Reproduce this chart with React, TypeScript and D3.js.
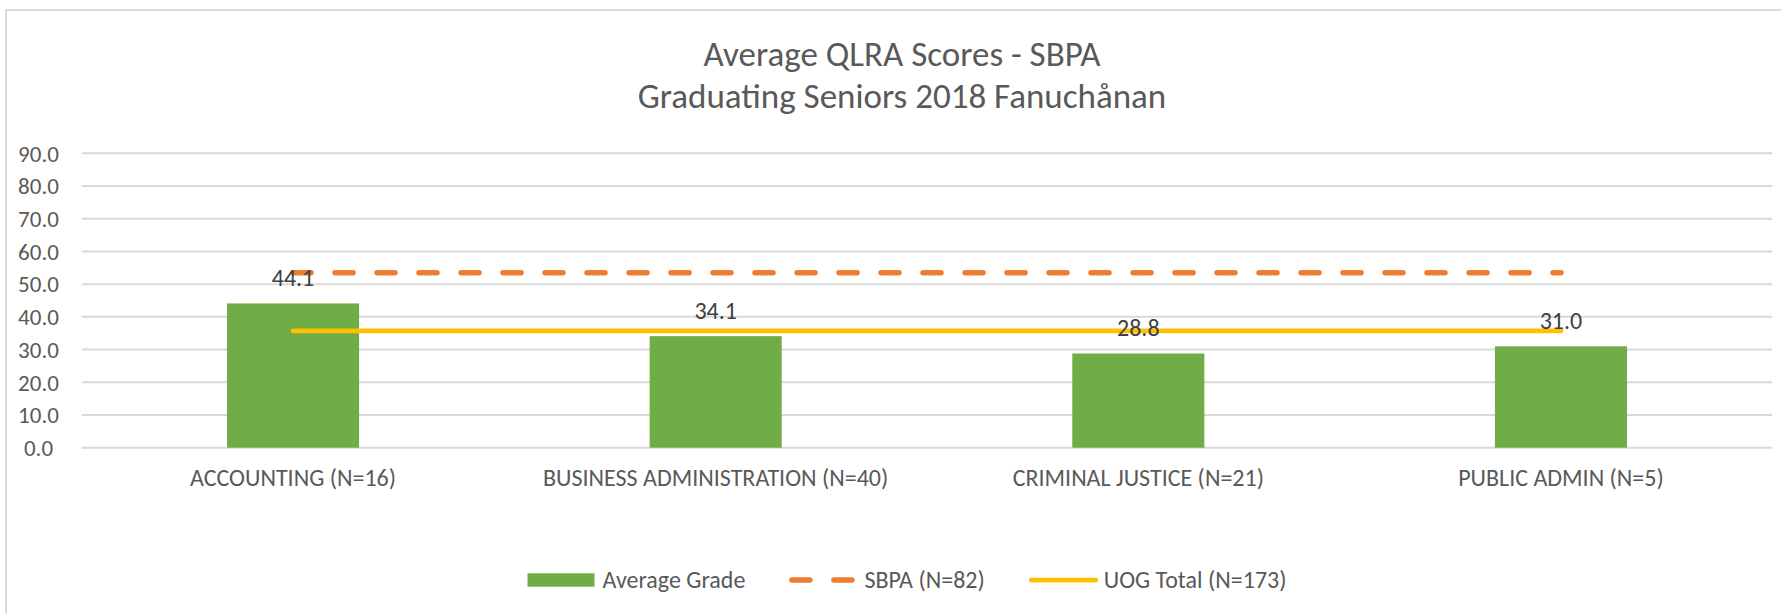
import React, { useEffect, useRef } from "react";
import * as d3 from "d3";

// Chart data
const categories = [
  "ACCOUNTING (N=16)",
  "BUSINESS ADMINISTRATION (N=40)",
  "CRIMINAL JUSTICE (N=21)",
  "PUBLIC ADMIN (N=5)",
];
const averageGrade = [44.1, 34.1, 28.8, 31.0];
const sbpaAverage = [53.5, 53.5, 53.5, 53.5];
const uogTotal = [35.7, 35.7, 35.7, 35.7];
const yTicks = [0, 10, 20, 30, 40, 50, 60, 70, 80, 90];
const titleLines = ["Average QLRA Scores - SBPA", "Graduating Seniors 2018 Fanuchånan"];
const legendLabels = ["Average Grade", "SBPA (N=82)", "UOG Total (N=173)"];

const FONT = "Calibri, Carlito, Lato, sans-serif";

export default function App() {
  const ref = useRef<SVGSVGElement | null>(null);

  useEffect(() => {
    const width = 1781,
      height = 613;
    const left = 81.7,
      right = 1772.3,
      top = 153.3,
      bottom = 447.7;

    const svg = d3.select(ref.current);
    svg.selectAll("*").remove();
    svg.attr("width", width).attr("height", height);

    svg.append("rect").attr("width", width).attr("height", height).attr("fill", "#fff");

    // Chart border (cropped on the right and bottom)
    svg
      .append("rect")
      .attr("x", 6)
      .attr("y", 10)
      .attr("width", width + 20)
      .attr("height", height + 20)
      .attr("fill", "none")
      .attr("stroke", "#d9d9d9")
      .attr("stroke-width", 2);

    const x = d3
      .scaleBand()
      .domain(categories)
      .range([left, right])
      .paddingInner(0.6875)
      .paddingOuter(0.34375);
    const y = d3.scaleLinear().domain([0, 90]).range([bottom, top]);
    const cx = (c: string) => (x(c) as number) + x.bandwidth() / 2;

    // Title
    svg
      .append("g")
      .selectAll("text")
      .data(titleLines)
      .join("text")
      .attr("x", 902)
      .attr("y", (d, i) => 65.7 + i * 42)
      .attr("text-anchor", "middle")
      .attr("fill", "#595959")
      .style("font-family", FONT)
      .style("font-size", "35px")
      .text((d) => d);

    // Gridlines
    svg
      .append("g")
      .selectAll("line")
      .data(yTicks)
      .join("line")
      .attr("x1", left)
      .attr("x2", right)
      .attr("y1", (d) => y(d))
      .attr("y2", (d) => y(d))
      .attr("stroke", "#d9d9d9")
      .attr("stroke-width", 2);

    // Y tick labels
    svg
      .append("g")
      .selectAll("text")
      .data(yTicks)
      .join("text")
      .attr("x", 38.5)
      .attr("y", (d) => y(d))
      .attr("dy", "0.36em")
      .attr("text-anchor", "middle")
      .attr("fill", "#595959")
      .style("font-family", FONT)
      .style("font-size", "23px")
      .text((d) => d3.format(".1f")(d));

    // Bars
    svg
      .append("g")
      .selectAll("rect")
      .data(averageGrade)
      .join("rect")
      .attr("x", (d, i) => x(categories[i]) as number)
      .attr("y", (d) => y(d))
      .attr("width", x.bandwidth())
      .attr("height", (d) => y(0) - y(d))
      .attr("fill", "#70ad47");

    const line = d3
      .line<number>()
      .x((d, i) => cx(categories[i]))
      .y((d) => y(d));

    // SBPA dashed line
    svg
      .append("path")
      .datum(sbpaAverage)
      .attr("d", line)
      .attr("fill", "none")
      .attr("stroke", "#ed7d31")
      .attr("stroke-width", 5.5)
      .attr("stroke-linecap", "round")
      .attr("stroke-dasharray", "18 24");

    // UOG total line
    svg
      .append("path")
      .datum(uogTotal)
      .attr("d", line)
      .attr("fill", "none")
      .attr("stroke", "#ffc000")
      .attr("stroke-width", 4.75)
      .attr("stroke-linecap", "round");

    // Data labels
    svg
      .append("g")
      .selectAll("text")
      .data(averageGrade)
      .join("text")
      .attr("x", (d, i) => cx(categories[i]))
      .attr("y", (d) => y(d) - 17)
      .attr("text-anchor", "middle")
      .attr("fill", "#404040")
      .style("font-family", FONT)
      .style("font-size", "24px")
      .text((d) => d3.format(".1f")(d));

    // Category labels
    svg
      .append("g")
      .selectAll("text")
      .data(categories)
      .join("text")
      .attr("x", (d) => cx(d))
      .attr("y", 486)
      .attr("text-anchor", "middle")
      .attr("fill", "#595959")
      .style("font-family", FONT)
      .style("font-size", "24px")
      .text((d) => d);

    // Legend, centred under the chart
    const symW = 67,
      symGap = 8,
      itemGap = 44,
      legendY = 580;
    const legend = svg.append("g");
    const texts = legend
      .selectAll("text")
      .data(legendLabels)
      .join("text")
      .attr("y", legendY + 7.5)
      .attr("fill", "#595959")
      .style("font-family", FONT)
      .style("font-size", "24px")
      .text((d) => d);
    const widths = texts.nodes().map((n) => (n as SVGTextElement).getComputedTextLength());
    const total =
      d3.sum(widths) + legendLabels.length * (symW + symGap) + (legendLabels.length - 1) * itemGap;
    let pos = 907 - total / 2;
    const starts: number[] = [];
    widths.forEach((w) => {
      starts.push(pos);
      pos += symW + symGap + w + itemGap;
    });
    texts.attr("x", (d, i) => starts[i] + symW + symGap);

    legend
      .append("rect")
      .attr("x", starts[0])
      .attr("y", legendY - 6.7)
      .attr("width", symW)
      .attr("height", 13.4)
      .attr("fill", "#70ad47");
    legend
      .append("line")
      .attr("x1", starts[1] + 2.5)
      .attr("x2", starts[1] + 62.5)
      .attr("y1", legendY)
      .attr("y2", legendY)
      .attr("stroke", "#ed7d31")
      .attr("stroke-width", 5.5)
      .attr("stroke-linecap", "round")
      .attr("stroke-dasharray", "18 24");
    legend
      .append("line")
      .attr("x1", starts[2] + 2.5)
      .attr("x2", starts[2] + symW)
      .attr("y1", legendY)
      .attr("y2", legendY)
      .attr("stroke", "#ffc000")
      .attr("stroke-width", 4.75)
      .attr("stroke-linecap", "round");
  }, []);

  return (
    <svg
      ref={ref}
      style={{ position: "absolute", left: 0, top: 0, display: "block" }}
    />
  );
}
